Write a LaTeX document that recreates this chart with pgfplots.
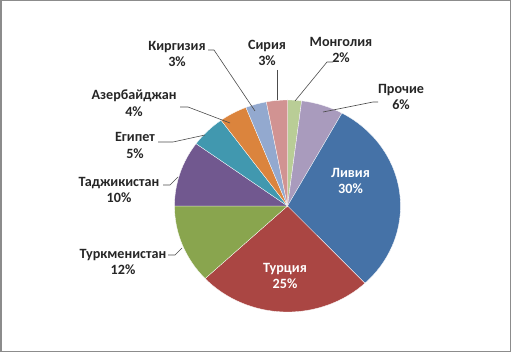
\documentclass[border=0pt]{standalone}
\usepackage{pgfplots}
\pgfplotsset{compat=1.18}
\usepackage{fontspec}
\setmainfont{Carlito}
\definecolor{cLiv}{HTML}{4572A7}
\definecolor{cTur}{HTML}{AA4643}
\definecolor{cTkm}{HTML}{89A54E}
\definecolor{cTaj}{HTML}{71588F}
\definecolor{cEgy}{HTML}{4198AF}
\definecolor{cAze}{HTML}{DB843D}
\definecolor{cKyr}{HTML}{93A9CF}
\definecolor{cSyr}{HTML}{D19392}
\definecolor{cMon}{HTML}{B9CD96}
\definecolor{cOth}{HTML}{A99BBD}
\tikzset{lbl/.style={font=\fontsize{14.2}{16.7}\selectfont\bfseries, align=center, text=black!85, inner sep=0pt},
  ldr/.style={black!70, line width=0.6pt}}
% slice values (percent), clockwise from 12 o'clock
% Mongolia 2, Others 6, Libya 30, Turkey 25, Turkmenistan 12,
% Tajikistan 10, Egypt 5, Azerbaijan 4, Kyrgyzstan 3, Syria 3
\newcommand{\slice}[3]{% #1 cumulative start, #2 value, #3 colour
  \fill[#3, draw=white, line width=0.3pt] (axis cs:287.5,146) -- ++({90-3.6*(#1)}:113bp and 106bp)
    arc[start angle={90-3.6*(#1)}, end angle={90-3.6*(#1+#2)}, x radius=113bp, y radius=106bp] -- cycle;}
\begin{document}
\begin{tikzpicture}
\begin{axis}[scale only axis, width=511bp, height=352bp,
  xmin=0, xmax=511, ymin=0, ymax=352, axis lines=none, clip=false]
\slice{0}{2}{cMon}
\slice{2}{6}{cOth}
\slice{8}{30}{cLiv}
\slice{38}{25}{cTur}
\slice{63}{12}{cTkm}
\slice{75}{10}{cTaj}
\slice{85}{5}{cEgy}
\slice{90}{4}{cAze}
\slice{94}{3}{cKyr}
\slice{97}{3}{cSyr}
% leader lines (pixel coords, y flipped)
\draw[ldr] (axis cs:208,302) -- (axis cs:214,302) -- (axis cs:255,241);
\draw[ldr] (axis cs:277.5,282) -- (axis cs:277.5,252);
\draw[ldr] (axis cs:333,290) -- (axis cs:327,290) -- (axis cs:295,251);
\draw[ldr] (axis cs:378,250) -- (axis cs:373,250) -- (axis cs:323,240);
\draw[ldr] (axis cs:180,245) -- (axis cs:188,245) -- (axis cs:230,229);
\draw[ldr] (axis cs:158,210) -- (axis cs:173,210) -- (axis cs:205,217);
\draw[ldr] (axis cs:163,167) -- (axis cs:170,167) -- (axis cs:178,175);
\draw[ldr] (axis cs:168,97) -- (axis cs:175,97) -- (axis cs:182,104);
% labels
\node[lbl] at (axis cs:177,298) {Киргизия\\3\%};
\node[lbl] at (axis cs:267,299) {Сирия\\3\%};
\node[lbl] at (axis cs:341,302) {Монголия\\2\%};
\node[lbl] at (axis cs:401,255) {Прочие\\6\%};
\node[lbl] at (axis cs:134,249) {Азербайджан\\4\%};
\node[lbl] at (axis cs:135,206.5) {Египет\\5\%};
\node[lbl] at (axis cs:119,162) {Таджикистан\\10\%};
\node[lbl] at (axis cs:123,90) {Туркменистан\\12\%};
\node[lbl, text=white] at (axis cs:350.5,171) {Ливия\\30\%};
\node[lbl, text=white] at (axis cs:285,76) {Турция\\25\%};
\draw[black!45, line width=1.5bp] (axis cs:0.75,0.75) rectangle (axis cs:510.25,351.25);
\end{axis}
\end{tikzpicture}
\end{document}
